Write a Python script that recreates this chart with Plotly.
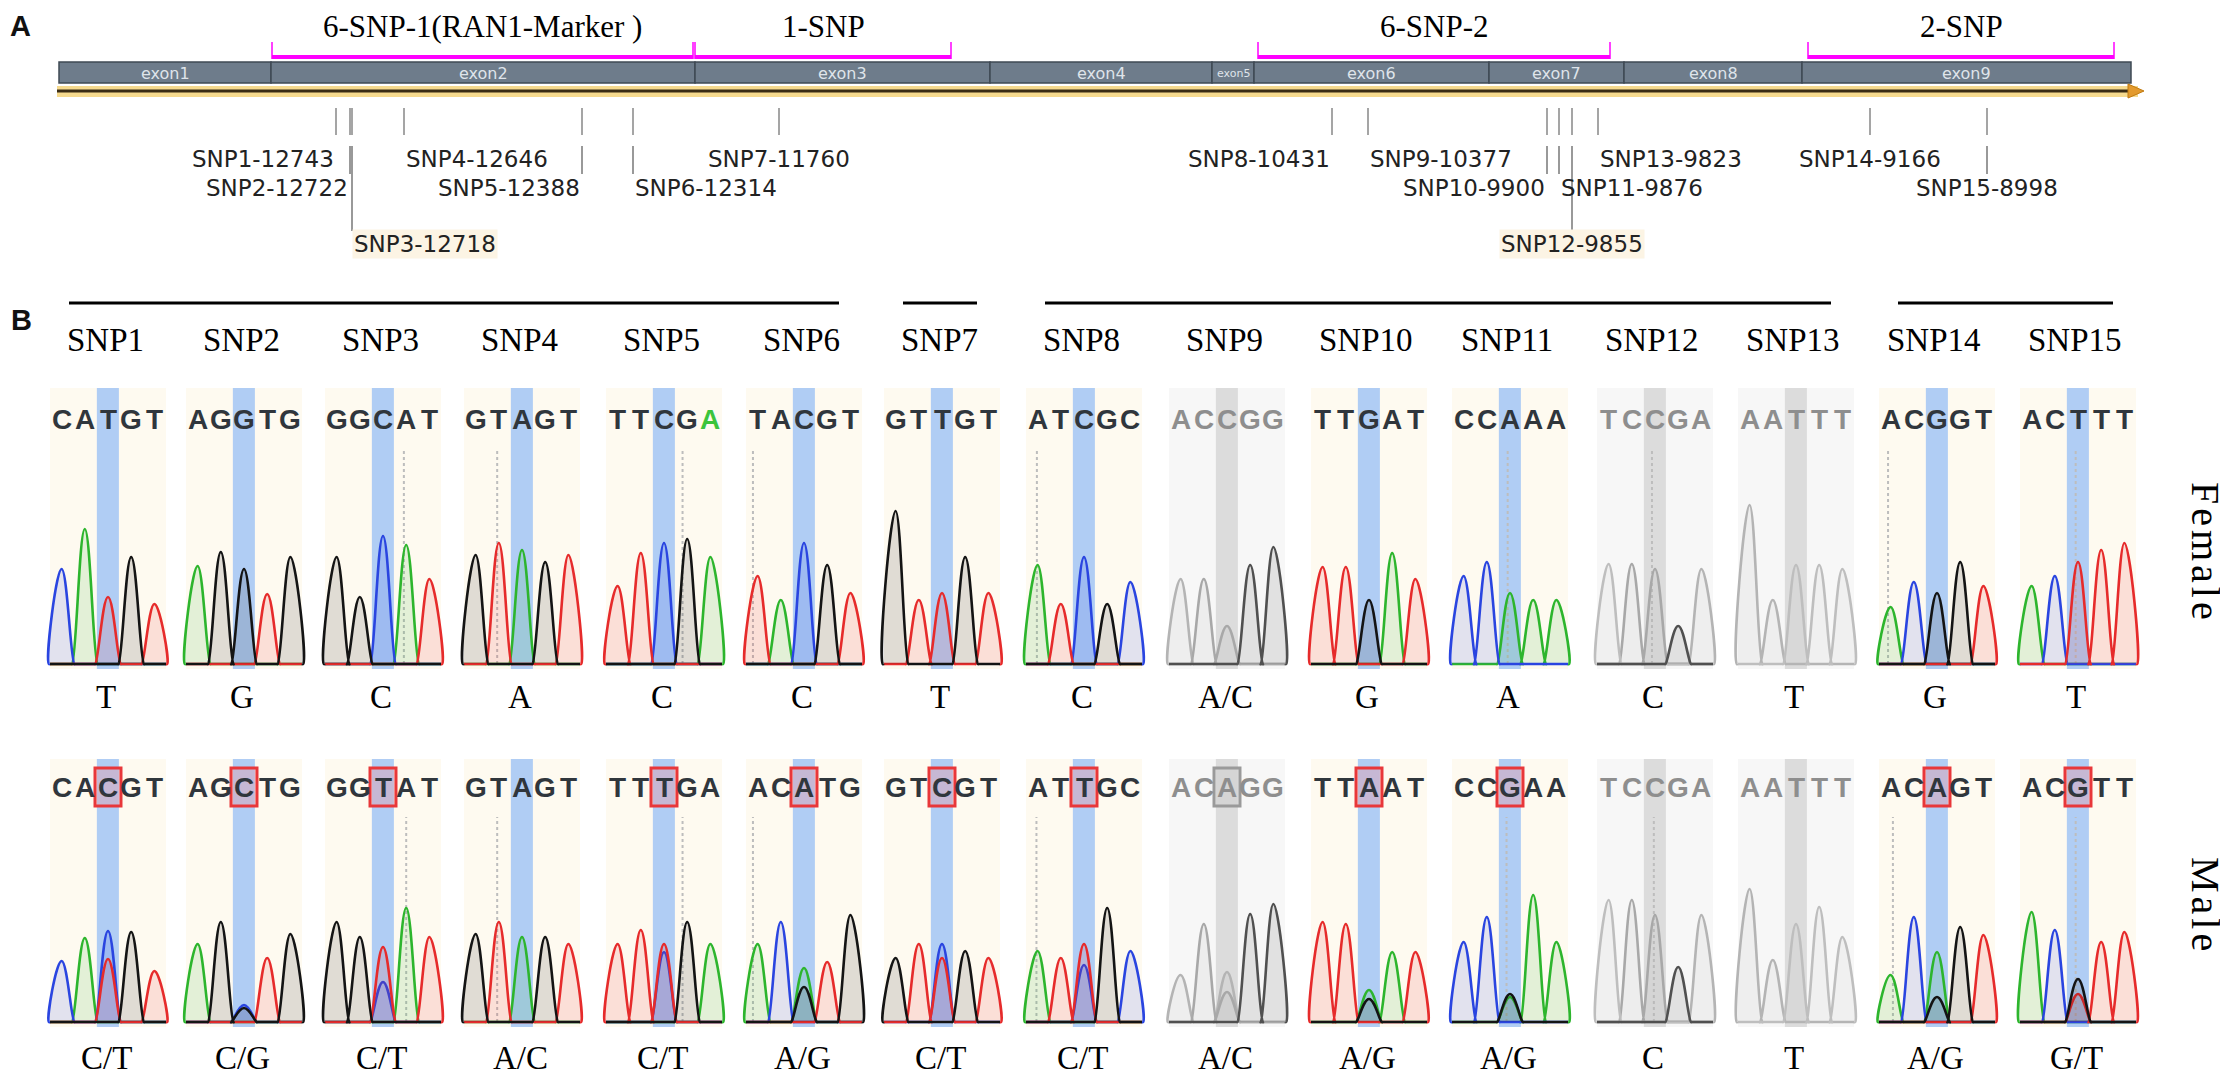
import plotly.graph_objects as go

# ======================= DATA =======================
# Panel A: gene model (track units along the drawn gene track)
exon_names = ["exon1", "exon2", "exon3", "exon4", "exon5", "exon6", "exon7", "exon8", "exon9"]
exon_bounds = [59, 271, 695, 990, 1212, 1254, 1489, 1624, 1802, 2131]
strand_end = 2142

group_names = ["6-SNP-1(RAN1-Marker )", "1-SNP", "6-SNP-2", "2-SNP"]
group_from = [272, 695, 1258, 1808]
group_to = [693, 951, 1610, 2114]

snp_names = ["SNP1", "SNP2", "SNP3", "SNP4", "SNP5", "SNP6", "SNP7", "SNP8",
             "SNP9", "SNP10", "SNP11", "SNP12", "SNP13", "SNP14", "SNP15"]
snp_sites = [12743, 12722, 12718, 12646, 12388, 12314, 11760, 10431,
             10377, 9900, 9876, 9855, 9823, 9166, 8998]
snp_track = [336, 350, 352, 404, 582, 633, 779, 1332, 1368, 1547, 1559, 1572, 1598, 1870, 1987]
snp_row = [1, 2, 3, 1, 2, 2, 1, 1, 1, 2, 2, 3, 1, 1, 2]
snp_anchor = ["right", "right", "left", "left", "right", "left", "center", "right",
              "left", "right", "left", "center", "left", "center", "center"]
snp_group = [0, 0, 0, 0, 0, 0, 1, 2, 2, 2, 2, 2, 2, 3, 3]

# Panel B: chromatograms (peak heights, px above baseline)
female_seq = ["CATGT", "AGGTG", "GGCAT", "GTAGT", "TTCGA", "TACGT", "GTTGT", "ATCGC",
              "ACCGG", "TTGAT", "CCAAA", "TCCGA", "AATTT", "ACGGT", "ACTTT"]
female_peak = [[95, 135, 67, 107, 60], [98, 112, 95, 70, 107], [107, 67, 128, 119, 85],
               [109, 121, 114, 102, 109], [78, 111, 121, 125, 107], [88, 64, 121, 99, 71],
               [153, 64, 71, 107, 71], [99, 60, 107, 60, 82], [85, 85, 38, 99, 117],
               [97, 97, 64, 111, 85], [88, 102, 71, 64, 64], [100, 100, 95, 38, 95],
               [159, 64, 99, 99, 95], [57, 82, 71, 102, 78], [78, 88, 102, 114, 121]]
female_call = ["T", "G", "C", "A", "C", "C", "T", "C", "A/C", "G", "A", "C", "T", "G", "T"]

male_seq = ["CACGT", "AGCTG", "GGTAT", "GTAGT", "TTTGA", "ACATG", "GTCGT", "ATTGC",
            "ACAGG", "TTAAT", "CCGAA", "TCCGA", "AATTT", "ACAGT", "ACGTT"]
male_peak = [[61, 84, 91, 90, 51], [78, 100, 17, 64, 88], [100, 85, 75, 114, 85],
             [88, 100, 85, 85, 78], [78, 92, 78, 100, 78], [78, 100, 54, 60, 107],
             [64, 78, 78, 71, 64], [71, 64, 78, 114, 71], [47, 98, 50, 108, 118],
             [100, 98, 32, 70, 70], [80, 105, 28, 127, 80], [122, 122, 107, 55, 107],
             [133, 62, 98, 115, 85], [47, 105, 70, 95, 87], [110, 92, 43, 80, 90]]
male_second = {1: ("T", 63), 2: ("G", 14), 3: ("C", 40), 5: ("C", 70), 6: ("G", 35),
               7: ("T", 64), 8: ("C", 57), 9: ("C", 30), 10: ("G", 23), 11: ("A", 25),
               14: ("G", 25), 15: ("T", 28)}
male_call = ["C/T", "C/G", "C/T", "A/C", "C/T", "A/G", "C/T", "C/T", "A/C", "A/G",
             "A/G", "C", "T", "A/G", "G/T"]

gray_panels = [9, 12, 13]
boxed_male = [1, 2, 3, 5, 6, 7, 8, 9, 10, 11, 14, 15]
female_dash = {3: 3.4, 4: 1.43, 5: 3.3, 6: 0.3, 8: 0.47, 11: 2.4, 12: 2.37, 14: 0.39, 15: 2.4}
male_dash = {3: 3.5, 4: 1.43, 5: 3.3, 6: 0.3, 8: 0.45, 11: 2.35, 12: 2.45, 14: 0.6, 15: 2.4}

# ======================= LAYOUT / STYLE =======================
OFF = 8
FIG_W, FIG_H = 2212, 1063
SERIF = "Liberation Serif"
SANS = "DejaVu Sans"
LETTER_FONT = "Liberation Sans"

BASE_COL = {"A": "#2db52d", "C": "#2a45e0", "G": "#141414", "T": "#e62b2b"}
GRAY_COL = {"A": "#b4b4b4", "C": "#a8a8a8", "G": "#505050", "T": "#bebebe"}

panel_left = [50, 186, 325, 464, 606, 746, 884, 1026, 1169, 1311, 1452, 1597, 1738, 1879, 2020]
PANEL_W = 116
BASE_PX = PANEL_W / 5.0
EXT_X, EXT_TOP = 9, 32   # extra room around each panel's plot area so letters stay inside it
rows = [
    dict(seq=female_seq, peak=female_peak, second={}, call=female_call, dash=female_dash,
         top=388, bottom=669, base=664, letter=419, cally=697, mid=553, label="Female", boxed=[]),
    dict(seq=male_seq, peak=male_peak, second=male_second, call=male_call, dash=male_dash,
         top=759, bottom=1027, base=1022, letter=787, cally=1058, mid=906, label="Male", boxed=boxed_male),
]

TITLE_Y, BR_Y, BR_TICK = 26, 57, 42
BAR_TOP, BAR_BOT = 62, 83
BAND_TOP, BAND_BOT, BAND_LINE = 86, 97, 91
TICK_TOP, TICK_BOT = 108, 135
ROW_Y = {1: 159, 2: 188, 3: 244}
CONN_TOP = 146
CONN_BOT = {2: 174, 3: 231}
GROUP_LINE_Y, SNP_LABEL_Y = 303, 340
FOOT = 0.55


def rgba(hx, a):
    hx = hx.lstrip("#")
    return "rgba(%d,%d,%d,%.2f)" % (int(hx[0:2], 16), int(hx[2:4], 16), int(hx[4:6], 16), a)


fig = go.Figure()
shapes, annotations = [], []
layout_axes = {}

layout_axes["xaxis"] = dict(domain=[0, 1], range=[OFF, OFF + FIG_W], visible=False, fixedrange=True)
layout_axes["yaxis"] = dict(domain=[0, 1], range=[OFF + FIG_H, OFF], visible=False, fixedrange=True)

# ---------------- Panel A ----------------
annotations.append(dict(x=OFF + 1, y=OFF + 0.5, xref="x", yref="y", text="<b>A</b>", showarrow=False,
                        xanchor="left", yanchor="top", borderpad=0,
                        font=dict(family="Liberation Sans", size=29, color="#111")))

# strand band and arrow
shapes.append(dict(type="rect", xref="x", yref="y", x0=exon_bounds[0] - 2, x1=strand_end - 4,
                   y0=BAND_TOP, y1=BAND_BOT, fillcolor="#f6da8e", line=dict(width=0), layer="below"))
fig.add_trace(go.Scatter(x=[exon_bounds[0] - 2, strand_end - 6], y=[BAND_LINE, BAND_LINE], mode="lines",
                         line=dict(color="#3a2c14", width=3), hoverinfo="skip", xaxis="x", yaxis="y"))
shapes.append(dict(type="path", xref="x", yref="y",
                   path="M %d,%d L %d,%d L %d,%d Z" % (strand_end - 14, BAND_LINE - 7, strand_end + 2,
                                                     BAND_LINE, strand_end - 14, BAND_LINE + 7),
                   fillcolor="#e39a2e", line=dict(color="#c07a10", width=1)))

# exons
for i, name in enumerate(exon_names):
    x0, x1 = exon_bounds[i], exon_bounds[i + 1]
    shapes.append(dict(type="rect", xref="x", yref="y", x0=x0, x1=x1, y0=BAR_TOP, y1=BAR_BOT,
                       fillcolor="#6e7c8b", line=dict(color="#3f4954", width=1.5), layer="below"))
    annotations.append(dict(x=(x0 + x1) / 2, y=(BAR_TOP + BAR_BOT) / 2 + 1, xref="x", yref="y", text=name,
                            showarrow=False,
                            font=dict(family=SANS, size=16 if x1 - x0 > 60 else 11, color="#dfe4ea")))

# magenta brackets
bx, by, tx, ty = [], [], [], []
for s, e in zip(group_from, group_to):
    bx += [s, e, None]
    by += [BR_Y, BR_Y, None]
    tx += [s, s, None, e, e, None]
    ty += [BR_TICK, BR_Y + 2, None, BR_TICK, BR_Y + 2, None]
fig.add_trace(go.Scatter(x=bx, y=by, mode="lines", line=dict(color="#ff00ff", width=4),
                         hoverinfo="skip", xaxis="x", yaxis="y"))
fig.add_trace(go.Scatter(x=tx, y=ty, mode="lines", line=dict(color="#ff00ff", width=1.5),
                         hoverinfo="skip", xaxis="x", yaxis="y"))
for name, s, e in zip(group_names, group_from, group_to):
    annotations.append(dict(x=(s + e) / 2, y=TITLE_Y, xref="x", yref="y", text=name, showarrow=False,
                            font=dict(family=SERIF, size=31, color="#000")))

# SNP ticks, connectors and labels
kx, ky, cx, cy = [], [], [], []
for i, name in enumerate(snp_names):
    p = snp_track[i]
    kx += [p, p, None]
    ky += [TICK_TOP, TICK_BOT, None]
    r = snp_row[i]
    if r > 1:
        cx += [p, p, None]
        cy += [CONN_TOP, CONN_BOT[r], None]
    ann = dict(x=p, y=ROW_Y[r], xref="x", yref="y", text="%s-%d" % (name, snp_sites[i]),
               showarrow=False, xanchor=snp_anchor[i], yanchor="middle",
               font=dict(family=SANS, size=23, color="#222"))
    if r == 3:
        ann["bgcolor"] = "#fcf4e4"
    annotations.append(ann)
fig.add_trace(go.Scatter(x=kx, y=ky, mode="lines", line=dict(color="#a5a5a5", width=2),
                         hoverinfo="skip", xaxis="x", yaxis="y"))
fig.add_trace(go.Scatter(x=cx, y=cy, mode="lines", line=dict(color="#777777", width=1.5),
                         hoverinfo="skip", xaxis="x", yaxis="y"))

# ---------------- Panel B ----------------
annotations.append(dict(x=OFF + 1, y=320, xref="x", yref="y", text="<b>B</b>", showarrow=False,
                        xanchor="left", font=dict(family="Liberation Sans", size=29, color="#111")))

label_center = [L + PANEL_W / 2 - 3 for L in panel_left]
gx, gy = [], []
for g in sorted(set(snp_group)):
    members = [i for i, v in enumerate(snp_group) if v == g]
    gx += [label_center[members[0]] - 36, label_center[members[-1]] + 38, None]
    gy += [GROUP_LINE_Y, GROUP_LINE_Y, None]
fig.add_trace(go.Scatter(x=gx, y=gy, mode="lines", line=dict(color="#000", width=3),
                         hoverinfo="skip", xaxis="x", yaxis="y"))
for i, name in enumerate(snp_names):
    annotations.append(dict(x=label_center[i], y=SNP_LABEL_Y, xref="x", yref="y", text=name,
                            showarrow=False, font=dict(family=SERIF, size=33, color="#000")))

k = 2
for row in rows:
    top, bottom, base = row["top"], row["bottom"], row["base"]
    letter_h = base - row["letter"]
    y_lo, y_hi = -(bottom - base), base - top
    for j in range(15):
        pnum = j + 1
        gray = pnum in gray_panels
        xa, ya = "x%d" % k, "y%d" % k
        L = panel_left[j]
        layout_axes["xaxis%d" % k] = dict(
            domain=[(L - EXT_X - OFF) / FIG_W, (L + PANEL_W + EXT_X - OFF) / FIG_W],
            range=[-EXT_X / BASE_PX, 5 + EXT_X / BASE_PX], visible=False, fixedrange=True, anchor=ya)
        layout_axes["yaxis%d" % k] = dict(
            domain=[1 - (bottom - OFF) / FIG_H, 1 - (top - EXT_TOP - OFF) / FIG_H],
            range=[y_lo, y_hi + EXT_TOP], visible=False, fixedrange=True, anchor=xa)
        # background + highlight column
        shapes.append(dict(type="rect", xref=xa, yref=ya, x0=0, x1=5, y0=y_lo, y1=y_hi,
                           fillcolor="#f7f7f7" if gray else "#fefaf0", line=dict(width=0), layer="below"))
        shapes.append(dict(type="rect", xref=xa, yref=ya, x0=2.02, x1=2.97, y0=y_lo, y1=y_hi,
                           fillcolor="#dcdcdc" if gray else "#b0cdf4", line=dict(width=0), layer="below"))
        if pnum in row["dash"]:
            d = row["dash"][pnum]
            shapes.append(dict(type="line", xref=xa, yref=ya, x0=d, x1=d, y0=0, y1=letter_h - 30,
                               line=dict(color="#bdbdbd", width=2, dash="dot"), layer="below"))
        # peaks
        peaks = {b: [] for b in "ACGT"}
        for i, (b, h) in enumerate(zip(row["seq"][j], row["peak"][j])):
            peaks[b].append((i + 0.5, h))
        if pnum in row["second"]:
            b2, h2 = row["second"][pnum]
            peaks[b2].append((2.5, h2))
        cols = GRAY_COL if gray else BASE_COL
        for b in "ACTG":
            if not peaks[b]:
                continue
            xs, ys = [0], [0]
            for (px, h) in sorted(peaks[b]):
                xs += [max(px - FOOT - 0.03, 0), px - FOOT, px, px + FOOT, min(px + FOOT + 0.03, 5)]
                ys += [0, 0, h, 0, 0]
            xs.append(5)
            ys.append(0)
            fig.add_trace(go.Scatter(x=xs, y=ys, mode="lines", line=dict(color=cols[b], width=2.6,
                                                                             shape="spline", smoothing=1.3),
                                     fill="tozeroy", fillcolor=rgba(cols[b], 0.13),
                                     hoverinfo="skip", xaxis=xa, yaxis=ya))
        # base letters
        for i, ch in enumerate(row["seq"][j]):
            colr = "#8e8e8e" if gray else "#30363c"
            if row["label"] == "Female" and pnum == 5 and i == 4:
                colr = "#3cc43c"
            annotations.append(dict(x=i + 0.5, y=letter_h, xref=xa, yref=ya, text="<b>%s</b>" % ch,
                                    showarrow=False, font=dict(family=LETTER_FONT, size=28, color=colr)))
        if pnum in row["boxed"]:
            shapes.append(dict(type="rect", xref=xa, yref=ya, x0=1.94, x1=3.06,
                               y0=letter_h - 19, y1=letter_h + 19,
                               fillcolor="rgba(200,200,200,0.35)" if gray else "rgba(255,130,130,0.28)",
                               line=dict(color="#9a9a9a" if gray else "#e8373a", width=3), layer="above"))
        # genotype call
        annotations.append(dict(x=L + PANEL_W / 2 - 2, y=row["cally"], xref="x", yref="y", text=row["call"][j],
                                showarrow=False, font=dict(family=SERIF, size=33, color="#000")))
        k += 1
    annotations.append(dict(x=2206, y=row["mid"], xref="x", yref="y",
                            text='<span style="letter-spacing:4px">%s</span>' % row["label"], showarrow=False,
                            textangle=90, font=dict(family=SERIF, size=40, color="#000")))

fig.update_layout(width=FIG_W, height=FIG_H, margin=dict(l=0, r=0, t=0, b=0, pad=0),
                  paper_bgcolor="white", plot_bgcolor="rgba(0,0,0,0)", showlegend=False,
                  shapes=shapes, annotations=annotations, **layout_axes)

fig.write_html("out.html")
